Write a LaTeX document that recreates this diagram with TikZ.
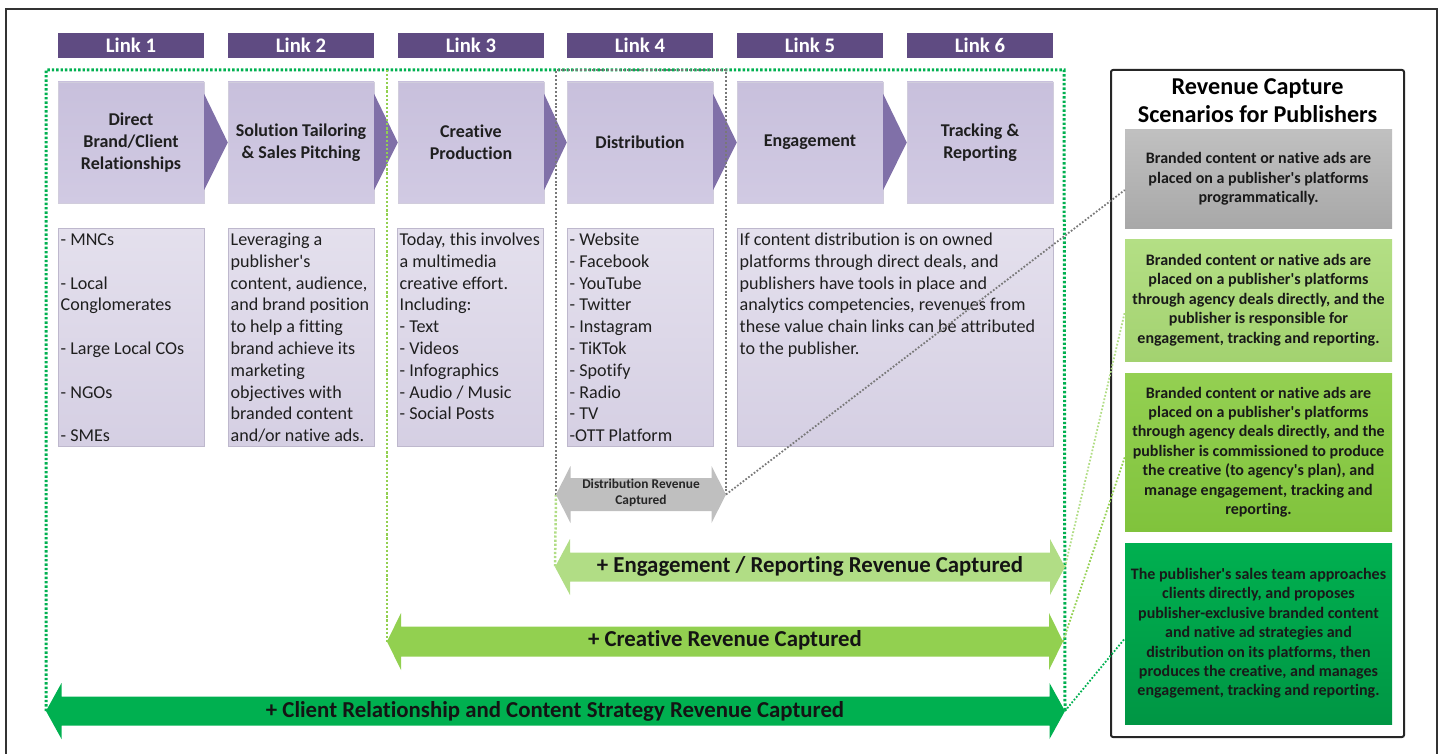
\documentclass[tikz,border=0pt]{standalone}
\usepackage{fontspec}
\setmainfont{Carlito}[Ligatures={TeX,NoCommon}]
\usetikzlibrary{calc}
\definecolor{linkpurple}{RGB}{95,75,130}
\definecolor{steptop}{RGB}{200,192,220}
\definecolor{stepbot}{RGB}{209,202,227}
\definecolor{chev}{RGB}{128,112,168}
\definecolor{desctop}{RGB}{228,224,237}
\definecolor{descbot}{RGB}{213,207,227}
\definecolor{descborder}{RGB}{190,184,205}
\definecolor{lgreen}{RGB}{177,221,133}
\definecolor{mgreen}{RGB}{146,208,80}
\definecolor{dgreen}{RGB}{0,176,80}
\definecolor{distgray}{RGB}{191,191,191}
\definecolor{dotgray}{RGB}{120,120,120}
\newcommand\ap{\textquotesingle}
\newcommand\dblarr[6]{\fill[#6] (#1) -- ($(#1)+(#5,-#3)$) -- ($(#1)+(#5,-#4)$) -- ($(#2)+(-#5,-#4)$) -- ($(#2)+(-#5,-#3)$) -- (#2) -- ($(#2)+(-#5,#3)$) -- ($(#2)+(-#5,#4)$) -- ($(#1)+(#5,#4)$) -- ($(#1)+(#5,#3)$) -- cycle;}
\begin{document}
\begin{tikzpicture}[x=1pt,y=-1pt,
  linkbox/.style={fill=linkpurple, text=white, font=\fontsize{20.7}{22}\selectfont\bfseries, minimum width=146, minimum height=25, inner sep=0},
  stepbox/.style={top color=steptop, bottom color=stepbot, draw=descborder!70, line width=0.4, minimum width=146, minimum height=121, align=center, font=\fontsize{18}{22}\selectfont\bfseries, inner sep=0, text=black!88},
  descbox/.style={top color=desctop, bottom color=descbot, draw=descborder, line width=0.5, minimum height=218, inner sep=0, anchor=north west},
  desctext/.style={anchor=north west, inner sep=0, align=left, font=\fontsize{18.1}{21.8}\selectfont, text=black!88},
  scenbox/.style={minimum width=267, align=center, inner sep=0, font=\fontsize{16}{19.4}\selectfont\bfseries, text=black!90},
  arrowlabel/.style={font=\fontsize{22.8}{24}\selectfont\bfseries, inner sep=0, text=black!92},
  dotdg/.style={draw=dgreen, line width=3, dash pattern=on 2.4pt off 2pt},
  dotmg/.style={draw=mgreen, line width=2.5, dash pattern=on 2.2pt off 1.9pt},
  dotlg/.style={draw=lgreen, line width=2.5, dash pattern=on 2.2pt off 1.9pt},
  dotgr/.style={draw=dotgray, line width=2.3, dash pattern=on 2pt off 1.9pt},
  diag/.style={line width=1.8, dash pattern=on 1.7pt off 1.8pt}
]
\useasboundingbox (0,0) rectangle (1445,754);
% outer frame
\draw[line width=1.2, black!80] (6,760) -- (6,9) -- (1437,9) -- (1437,760);

% link headers
\node[linkbox] (l1) at (131,45.5) {Link 1};
\node[linkbox] (l2) at (301,45.5) {Link 2};
\node[linkbox] (l3) at (471,45.5) {Link 3};
\node[linkbox] (l4) at (640,45.5) {Link 4};
\node[linkbox] (l5) at (810,45.5) {Link 5};
\node[linkbox] (l6) at (980,45.5) {Link 6};

% step boxes
\node[stepbox] (s1) at (131,142.5) {Direct\\Brand/Client\\Relationships};
\node[stepbox] (s2) at (301,142.5) {Solution Tailoring\\\& Sales Pitching};
\node[stepbox] (s3) at (471,142.5) {Creative\\Production};
\node[stepbox] (s4) at (640,142.5) {Distribution};
\node[stepbox] (s5) at (810,142.5) {Engagement};
\node[stepbox] (s6) at (980,142.5) {Tracking \&\\Reporting};
\foreach \a/\b in {s1/s2,s2/s3,s3/s4,s4/s5,s5/s6}{
  \fill[chev] ($(\a.east)+(0,-48.5)$) -- (\b.west) -- ($(\a.east)+(0,47.5)$) -- cycle;
}

% description boxes
\node[descbox, minimum width=146] (d1) at (58,228) {};
\node[descbox, minimum width=146] (d2) at (228,228) {};
\node[descbox, minimum width=146] (d3) at (397,228) {};
\node[descbox, minimum width=146] (d4) at (567,228) {};
\node[descbox, minimum width=316] (d5) at (737,228) {};
\node[desctext] (t1) at ($(d1.north west)+(2.5,2)$) {\strut- MNCs\\ \\- Local\\Conglomerates\\ \\- Large Local COs\\ \\- NGOs\\ \\- SMEs};
\node[desctext] (t2) at ($(d2.north west)+(2.5,2)$) {\strut Leveraging a\\publisher\ap s\\content, audience,\\and brand position\\to help a fitting\\brand achieve its\\marketing\\objectives with\\branded content\\and/or native ads.};
\node[desctext] (t3) at ($(d3.north west)+(2.5,2)$) {\strut Today, this involves\\a multimedia\\creative effort.\\Including:\\- Text\\- Videos\\- Infographics\\- Audio / Music\\- Social Posts};
\node[desctext] (t4) at ($(d4.north west)+(2.5,2)$) {\strut- Website\\- Facebook\\- YouTube\\- Twitter\\- Instagram\\- TiKTok\\- Spotify\\- Radio\\- TV\\-OTT Platform};
\node[desctext] (t5) at ($(d5.north west)+(2.5,2)$) {\strut If content distribution is on owned\\platforms through direct deals, and\\publishers have tools in place and\\analytics competencies, revenues from\\these value chain links can be attributed\\to the publisher.};

% arrow tip coordinates
\coordinate (distL) at (556,494.5);
\coordinate (distR) at (726,494.5);
\coordinate (engL) at (555,567);
\coordinate (engR) at (1065,567);
\coordinate (creL) at (387,641.5);
\coordinate (creR) at (1063,641.5);
\coordinate (cliL) at (46,711);
\coordinate (cliR) at (1065,711);
\coordinate (tl) at (47,70);
\coordinate (tr) at (1064,70);

% scenario panel
\node[draw=black!85, line width=2, rounded corners=2, minimum width=293, minimum height=667, inner sep=0] (scen) at (1257.5,403.5) {};
\node[font=\fontsize{24.2}{28}\selectfont\bfseries, align=center, inner sep=0] (sctitle) at (1257.5,101) {Revenue Capture\\Scenarios for Publishers};
\node[scenbox, minimum height=98, top color={rgb,255:red,192;green,192;blue,192}, bottom color={rgb,255:red,168;green,168;blue,168}] (sc1) at (1258.5,179) {Branded content or native ads are\\placed on a publisher\ap s platforms\\programmatically.};
\node[scenbox, minimum height=122, top color={rgb,255:red,180;green,223;blue,133}, bottom color={rgb,255:red,163;green,210;blue,112}] (sc2) at (1258.5,300) {Branded content or native ads are\\placed on a publisher\ap s platforms\\through agency deals directly, and the\\publisher is responsible for\\engagement, tracking and reporting.};
\node[scenbox, minimum height=158, top color={rgb,255:red,148;green,208;blue,82}, bottom color={rgb,255:red,128;green,195;blue,60}] (sc3) at (1258.5,452) {Branded content or native ads are\\placed on a publisher\ap s platforms\\through agency deals directly, and the\\publisher is commissioned to produce\\the creative (to agency\ap s plan), and\\manage engagement, tracking and\\reporting.};
\node[scenbox, minimum height=181, top color={rgb,255:red,0;green,176;blue,80}, bottom color={rgb,255:red,0;green,150;blue,68}] (sc4) at (1258.5,633.5) {The publisher\ap s sales team approaches\\clients directly, and proposes\\publisher-exclusive branded content\\and native ad strategies and\\distribution on its platforms, then\\produces the creative, and manages\\engagement, tracking and reporting.};

% dotted region lines
\draw[dotdg] (cliL) |- (tr) -- (cliR);
\draw[dotmg] (creL |- tl) -- (creL);
\draw[dotlg] (distL) -- (engL);
\draw[dotgr] (distL) -- (distL |- tl) -- (distR |- tl) -- (distR);

% diagonal connectors to scenarios
\draw[diag, draw=dotgray] (distR) -- ($(sc1.west)+(0,11)$);
\draw[diag, draw=lgreen] (engR) -- ($(sc2.west)+(0,12)$);
\draw[diag, draw=mgreen] (creR) -- ($(sc3.west)+(0,5)$);
\draw[diag, draw=dgreen] (cliR) -- ($(sc4.west)+(0,5)$);

% arrows
\dblarr{distL}{distR}{28.5}{16.5}{14.5}{distgray}
\dblarr{engL}{engR}{28}{14.5}{15}{lgreen}
\dblarr{creL}{creR}{28.5}{15}{14}{mgreen}
\dblarr{cliL}{cliR}{28}{14.5}{15.5}{dgreen}
\node[font=\fontsize{13.4}{16}\selectfont\bfseries, align=center, inner sep=0, text=black!85] (distT) at (641,493) {Distribution Revenue\\Captured};
\node[arrowlabel] (engT) at (810,566) {+ Engagement / Reporting Revenue Captured};
\node[arrowlabel] (creT) at (725,640) {+ Creative Revenue Captured};
\node[arrowlabel] (cliT) at (555,711) {+ Client Relationship and Content Strategy Revenue Captured};
\end{tikzpicture}
\end{document}
